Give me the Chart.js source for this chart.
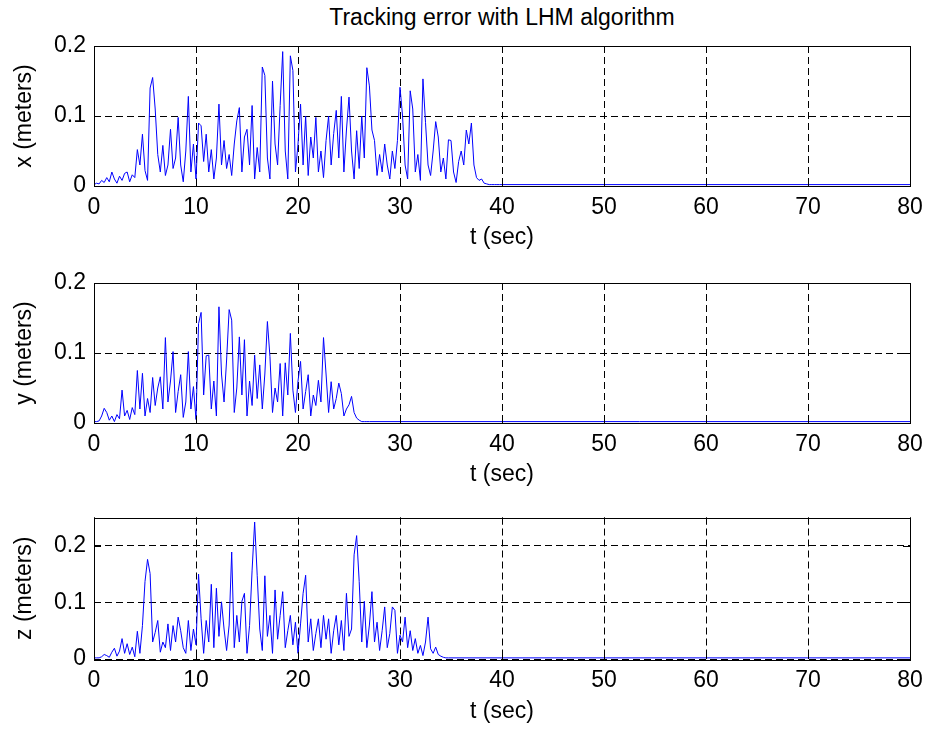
<!DOCTYPE html>
<html lang="en">
<head>
<meta charset="UTF-8" />
<title>Tracking error with LHM algorithm</title>
<script src="https://cdn.jsdelivr.net/npm/chart.js"></script>
<style>
  html, body { margin: 0; padding: 0; background: white; }
  #fig { position: relative; width: 929px; height: 729px; overflow: hidden; }
  #fig canvas { position: absolute; left: 0; }
  #title {
    position: absolute; left: 94px; width: 816px; top: 4px;
    text-align: center; line-height: 26px;
    font: 23px "Liberation Sans", Arial, sans-serif; color: #000;
  }
</style>
</head>
<body>
<div id="fig">
  <div id="title">Tracking error with LHM algorithm</div>
  <canvas id="cx" width="929" height="258" style="top:0px"></canvas>
  <canvas id="cy" width="929" height="236" style="top:258px"></canvas>
  <canvas id="cz" width="929" height="235" style="top:494px"></canvas>
</div>
<script>
  // sampled every 0.25 s until the error settles, then flat until t = 80 s
  const sampleStep = 0.25;
  const tEnd = 80;
  const tailValue = 0.002;

  const tTicks = [0, 10, 20, 30, 40, 50, 60, 70, 80];
  const xyTicks = [0, 0.1, 0.2];
  const zTicks = [0, 0.1, 0.2];

  const xError = [
    0.002, 0.004, 0.003, 0.008, 0.005,
    0.012, 0.006, 0.020, 0.010,
    0.004, 0.014, 0.008, 0.018,
    0.020, 0.006, 0.016, 0.012,
    0.052, 0.030, 0.074, 0.022,
    0.008, 0.140, 0.155, 0.110,
    0.045, 0.020, 0.058, 0.015,
    0.030, 0.081, 0.025, 0.040,
    0.098, 0.030, 0.006, 0.050,
    0.128, 0.020, 0.060, 0.010,
    0.090, 0.086, 0.035, 0.074,
    0.020, 0.052, 0.010, 0.040,
    0.117, 0.030, 0.065, 0.025,
    0.045, 0.015, 0.060, 0.093,
    0.112, 0.020, 0.070, 0.081,
    0.030, 0.115, 0.010, 0.055,
    0.020, 0.170, 0.158, 0.040,
    0.010, 0.150, 0.060, 0.030,
    0.115, 0.192, 0.050, 0.010,
    0.186, 0.165, 0.020, 0.060,
    0.117, 0.030, 0.100, 0.015,
    0.070, 0.040, 0.098, 0.020,
    0.050, 0.012, 0.065, 0.100,
    0.030, 0.075, 0.108, 0.040,
    0.128, 0.020, 0.080, 0.127,
    0.050, 0.010, 0.079, 0.025,
    0.100, 0.040, 0.169, 0.143,
    0.080, 0.065, 0.015, 0.045,
    0.020, 0.060, 0.030, 0.010,
    0.050, 0.025, 0.065, 0.141,
    0.100, 0.030, 0.010, 0.136,
    0.110, 0.020, 0.045, 0.008,
    0.153, 0.091, 0.030, 0.015,
    0.050, 0.092, 0.070, 0.020,
    0.040, 0.010, 0.066, 0.065,
    0.020, 0.005, 0.035, 0.050,
    0.030, 0.080, 0.060, 0.090,
    0.030, 0.012, 0.008, 0.010,
    0.004, 0.003, 0.002, 0.002,
    0.002, 0.002, 0.002, 0.002
  ];

  const yError = [
    0.002, 0.002, 0.003, 0.010, 0.021,
    0.015, 0.004, 0.010, 0.002,
    0.012, 0.006, 0.047, 0.010,
    0.018, 0.005, 0.022, 0.012,
    0.075, 0.020, 0.071, 0.010,
    0.035, 0.015, 0.065, 0.025,
    0.050, 0.066, 0.020, 0.122,
    0.030, 0.060, 0.102, 0.015,
    0.045, 0.069, 0.008, 0.030,
    0.102, 0.020, 0.052, 0.005,
    0.142, 0.158, 0.040, 0.096,
    0.097, 0.020, 0.060, 0.010,
    0.166, 0.070, 0.030, 0.090,
    0.162, 0.147, 0.015, 0.050,
    0.123, 0.040, 0.119, 0.010,
    0.060, 0.025, 0.097, 0.035,
    0.083, 0.020, 0.070, 0.145,
    0.095, 0.015, 0.050, 0.030,
    0.085, 0.010, 0.086, 0.040,
    0.128, 0.047, 0.015, 0.060,
    0.088, 0.020, 0.045, 0.069,
    0.010, 0.040, 0.025, 0.061,
    0.030, 0.122, 0.070, 0.015,
    0.059, 0.020, 0.035, 0.057,
    0.042, 0.010, 0.020, 0.026,
    0.038, 0.015, 0.007, 0.004,
    0.002, 0.002, 0.002, 0.002
  ];

  const zError = [
    0.002, 0.002, 0.002, 0.004, 0.008,
    0.006, 0.003, 0.012, 0.019,
    0.005, 0.014, 0.036, 0.010,
    0.027, 0.008, 0.021, 0.004,
    0.049, 0.010, 0.059, 0.137,
    0.176, 0.151, 0.030, 0.047,
    0.068, 0.012, 0.030, 0.020,
    0.062, 0.015, 0.059, 0.030,
    0.074, 0.050, 0.020, 0.010,
    0.068, 0.015, 0.053, 0.025,
    0.150, 0.071, 0.010, 0.068,
    0.030, 0.132, 0.020, 0.125,
    0.040, 0.101, 0.053, 0.015,
    0.060, 0.189, 0.020, 0.077,
    0.030, 0.102, 0.116, 0.010,
    0.059, 0.157, 0.242, 0.148,
    0.053, 0.015, 0.147, 0.040,
    0.077, 0.010, 0.122, 0.035,
    0.077, 0.119, 0.020, 0.050,
    0.077, 0.025, 0.065, 0.010,
    0.062, 0.116, 0.148, 0.030,
    0.071, 0.015, 0.045, 0.071,
    0.020, 0.077, 0.035, 0.071,
    0.010, 0.050, 0.077, 0.025,
    0.068, 0.015, 0.116, 0.040,
    0.053, 0.184, 0.218, 0.137,
    0.030, 0.102, 0.020, 0.060,
    0.119, 0.030, 0.065, 0.015,
    0.050, 0.092, 0.020, 0.045,
    0.092, 0.086, 0.010, 0.042,
    0.030, 0.074, 0.020, 0.050,
    0.015, 0.036, 0.010, 0.024,
    0.006, 0.030, 0.074, 0.018,
    0.010, 0.021, 0.008, 0.005,
    0.003, 0.002, 0.002, 0.002
  ];

  const FONT = '"Liberation Sans", Arial, sans-serif';
  const FS = 23;
  const LH = 1.2;

  function toPoints(values) {
    const pts = values.map((v, i) => ({ x: i * sampleStep, y: v }));
    pts.push({ x: tEnd, y: tailValue });
    return pts;
  }

  // solid axes box with MATLAB style inward tick marks
  const boxPlugin = {
    id: 'box',
    afterDraw(chart) {
      const { ctx, chartArea: a, scales } = chart;
      const tl = 7;
      ctx.save();
      ctx.strokeStyle = '#000';
      ctx.lineWidth = 1;
      ctx.beginPath();
      scales.x.ticks.forEach(t => {
        const px = Math.round(scales.x.getPixelForValue(t.value)) + 0.5;
        ctx.moveTo(px, a.bottom); ctx.lineTo(px, a.bottom - tl);
        ctx.moveTo(px, a.top); ctx.lineTo(px, a.top + tl);
      });
      scales.y.ticks.forEach(t => {
        const py = Math.round(scales.y.getPixelForValue(t.value)) + 0.5;
        ctx.moveTo(a.left, py); ctx.lineTo(a.left + tl, py);
        ctx.moveTo(a.right, py); ctx.lineTo(a.right - tl, py);
      });
      ctx.stroke();
      ctx.strokeRect(Math.round(a.left) + 0.5, Math.round(a.top) + 0.5,
                     Math.round(a.right - a.left), Math.round(a.bottom - a.top));
      ctx.restore();
    }
  };

  function makePanel(id, values, yLabel, yMax, yTicks, p) {
    const titlePad = p.height - p.tTitleY - FS * LH / 2;
    new Chart(document.getElementById(id), {
      type: 'line',
      data: {
        datasets: [{
          data: toPoints(values),
          borderColor: '#0000ff',
          borderWidth: 1,
          pointRadius: 0,
          tension: 0,
          fill: false
        }]
      },
      options: {
        responsive: false,
        animation: false,
        events: [],
        layout: { padding: { top: p.areaTop, right: 19, left: 0, bottom: 0 } },
        plugins: { legend: { display: false }, tooltip: { enabled: false } },
        scales: {
          x: {
            type: 'linear',
            min: 0, max: tEnd,
            afterBuildTicks: s => { s.ticks = tTicks.map(v => ({ value: v })); },
            afterFit: s => { s.height = p.height - p.areaBottom; s.paddingLeft = 0; s.paddingRight = 0; },
            ticks: { color: '#000', font: { family: FONT, size: FS }, padding: 8, maxRotation: 0, autoSkip: false },
            grid: { color: '#000', lineWidth: 1, drawTicks: false },
            border: { display: false, dash: [7, 4] },
            title: {
              display: true, text: 't (sec)', color: '#000',
              font: { family: FONT, size: FS, lineHeight: LH },
              padding: { top: 0, bottom: titlePad }
            }
          },
          y: {
            type: 'linear',
            min: 0, max: yMax,
            afterBuildTicks: s => { s.ticks = yTicks.map(v => ({ value: v })); },
            afterFit: s => { s.width = 94; s.paddingTop = 0; s.paddingBottom = 0; },
            ticks: {
              color: '#000', font: { family: FONT, size: FS }, padding: 8,
              callback: v => v === 0 ? '0' : v.toFixed(1)
            },
            grid: { color: '#000', lineWidth: 1, drawTicks: false },
            border: { display: false, dash: [7, 4] },
            title: {
              display: true, text: yLabel, color: '#000',
              font: { family: FONT, size: FS, lineHeight: LH },
              padding: { top: 11, bottom: 0 }
            }
          }
        }
      },
      plugins: [boxPlugin]
    });
  }

  makePanel('cx', xError, 'x (meters)', 0.2, xyTicks, { height: 258, areaTop: 46, areaBottom: 186, tTitleY: 238 });
  makePanel('cy', yError, 'y (meters)', 0.2, xyTicks, { height: 236, areaTop: 25, areaBottom: 165, tTitleY: 217 });
  makePanel('cz', zError, 'z (meters)', 0.25, zTicks, { height: 235, areaTop: 23.5, areaBottom: 165, tTitleY: 218 });
</script>
</body>
</html>
